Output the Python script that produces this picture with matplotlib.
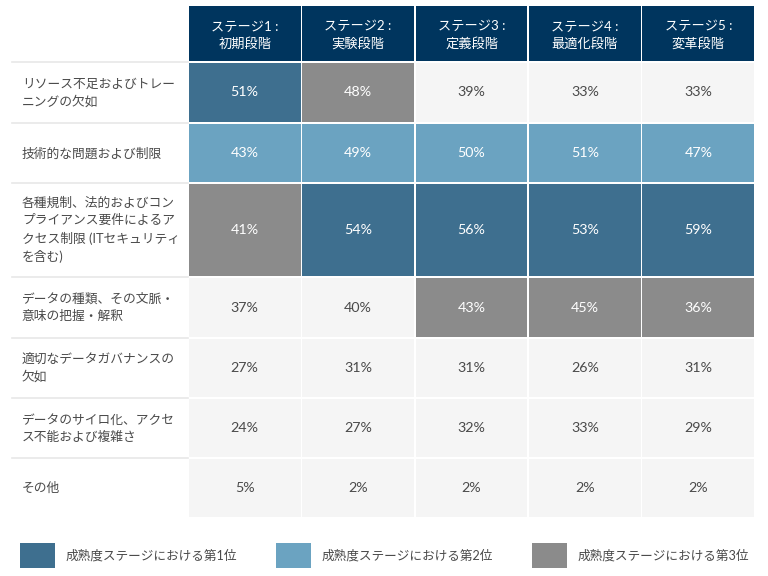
import matplotlib.pyplot as plt
from matplotlib.patches import Rectangle

plt.rcParams['font.family'] = ['Lato', 'Noto Sans CJK JP', 'DejaVu Sans']

# データ
stages = ["ステージ1 :\n初期段階", "ステージ2 :\n実験段階", "ステージ3 :\n定義段階",
          "ステージ4 :\n最適化段階", "ステージ5 :\n変革段階"]
issues = ["リソース不足およびトレー\nニングの欠如",
          "技術的な問題および制限",
          "各種規制、法的およびコン\nプライアンス要件によるア\nクセス制限 (ITセキュリティ\nを含む)",
          "データの種類、その文脈・\n意味の把握・解釈",
          "適切なデータガバナンスの\n欠如",
          "データのサイロ化、アクセ\nス不能および複雑さ",
          "その他"]
values = [[51, 48, 39, 33, 33],
          [43, 49, 50, 51, 47],
          [41, 54, 56, 53, 59],
          [37, 40, 43, 45, 36],
          [27, 31, 31, 26, 31],
          [24, 27, 32, 33, 29],
          [5, 2, 2, 2, 2]]
# 0 = 順位なし, 1/2/3 = 成熟度ステージにおける順位
ranks = [[1, 3, 0, 0, 0],
         [2, 2, 2, 2, 2],
         [3, 1, 1, 1, 1],
         [0, 0, 3, 3, 3],
         [0, 0, 0, 0, 0],
         [0, 0, 0, 0, 0],
         [0, 0, 0, 0, 0]]
legend_labels = ["成熟度ステージにおける第1位", "成熟度ステージにおける第2位",
                 "成熟度ステージにおける第3位"]

rank_colors = {0: "#f5f5f5", 1: "#3e6f8f", 2: "#6ba3c1", 3: "#8b8b8b"}
header_color = "#00355e"

# レイアウト（ピクセル）
col_x = [188, 301.4, 414.8, 528.2, 641.6, 755]
row_y = [62, 123, 183, 277, 338, 398, 458, 518]
head_top = 6
label_left = 12
gap = 0.8

fig = plt.figure(figsize=(7.68, 5.76), dpi=100)
ax = fig.add_axes([0, 0, 1, 1])
ax.set_xlim(0, 768)
ax.set_ylim(576, 0)
ax.axis("off")

# ヘッダー
for j, s in enumerate(stages):
    x0, x1 = col_x[j], col_x[j + 1]
    ax.add_patch(Rectangle((x0 + gap, head_top), x1 - x0 - 2 * gap, row_y[0] - head_top - gap,
                           color=header_color, lw=0))
    ax.text((x0 + x1) / 2, (head_top + row_y[0]) / 2 + 1, s, ha="center", va="center",
            color="white", fontsize=9.5, linespacing=1.4)

# 行
for i, label in enumerate(issues):
    y0, y1 = row_y[i], row_y[i + 1]
    ax.plot([label_left, col_x[0]], [y0, y0], color="#e8e8e8", lw=1.2)
    ax.text(label_left + 10, (y0 + y1) / 2, label, ha="left", va="center",
            color="#4a4a4a", fontsize=9.2, linespacing=1.5)
    for j in range(len(stages)):
        x0, x1 = col_x[j], col_x[j + 1]
        r = ranks[i][j]
        ax.add_patch(Rectangle((x0 + gap, y0 + gap), x1 - x0 - 2 * gap, y1 - y0 - 2 * gap,
                               color=rank_colors[r], lw=0))
        ax.text((x0 + x1) / 2, (y0 + y1) / 2, f"{values[i][j]}%", ha="center", va="center",
                color="white" if r else "#4a4a4a", fontsize=10.3)

# 凡例
leg_x = [20, 276, 532]
for k, lab in enumerate(legend_labels):
    ax.add_patch(Rectangle((leg_x[k], 543), 35, 25, color=rank_colors[k + 1], lw=0))
    ax.text(leg_x[k] + 46, 555.5, lab, ha="left", va="center", color="#4a4a4a", fontsize=9.1)

fig.savefig("out.png", dpi=100)
